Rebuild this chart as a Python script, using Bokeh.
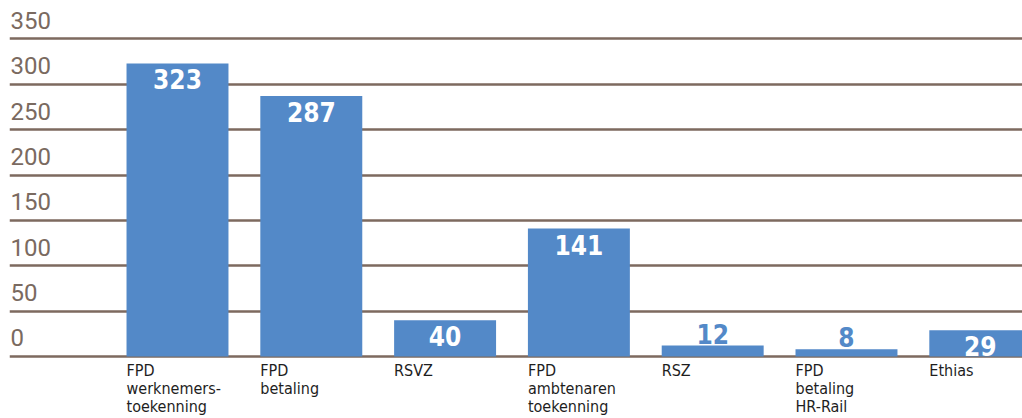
from bokeh.plotting import figure
from bokeh.models import ColumnDataSource, FixedTicker, Range1d
from bokeh.core.properties import value
from bokeh.embed import file_html
from bokeh.resources import INLINE

# ---- data ----
categories = ["FPD\nwerknemers-\ntoekenning", "FPD\nbetaling", "RSVZ",
              "FPD\nambtenaren\ntoekenning", "RSZ", "FPD\nbetaling\nHR-Rail", "Ethias"]
values = [323, 287, 40, 141, 12, 8, 29]
y_ticks = [0, 50, 100, 150, 200, 250, 300, 350]
y_tick_labels = ["0", "50", "100", "150", "200", "250", "300", "350"]

BAR = "#5389C8"
GRID = "#7d6a5f"
TICK = "#7a6a60"
NARROW = "'Liberation Sans Narrow', 'DejaVu Sans Condensed', 'Roboto', sans-serif"

Y0, Y1 = -68.35, 392.4
H = 418
PX = (Y1 - Y0) / H          # data units per screen pixel

xs = list(range(len(values)))
bar_w = 0.762
inside = [v >= 20 for v in values]

p = figure(width=1022, height=H, output_backend="svg", toolbar_location=None,
           x_range=Range1d(-1.2556, 6.3155), y_range=Range1d(Y0, Y1),
           min_border_left=9, min_border_right=0, min_border_top=0, min_border_bottom=0)
p.xaxis.visible = False
p.yaxis.visible = False
p.xgrid.visible = False
p.ygrid.ticker = FixedTicker(ticks=y_ticks)
p.ygrid.grid_line_color = GRID
p.ygrid.grid_line_width = 2.5
p.outline_line_color = None
p.background_fill_color = "white"
p.border_fill_color = "white"

src = ColumnDataSource(dict(x=xs, top=values))
p.vbar(x="x", top="top", bottom=0, width=bar_w, source=src,
       fill_color=BAR, line_color=None)

# value labels: white inside tall bars, blue above short ones
in_src = ColumnDataSource(dict(x=[x for x, i in zip(xs, inside) if i],
                               y=[v - 6 * PX for v, i in zip(values, inside) if i],
                               t=[str(v) for v, i in zip(values, inside) if i]))
out_src = ColumnDataSource(dict(x=[x for x, i in zip(xs, inside) if not i],
                                y=[v + 2 * PX for v, i in zip(values, inside) if not i],
                                t=[str(v) for v, i in zip(values, inside) if not i]))
p.text(x="x", y="y", text="t", source=in_src, text_color="white",
       text_font=value(NARROW), text_font_style="bold", text_font_size="26px",
       text_align="center", text_baseline="top")
p.text(x="x", y="y", text="t", source=out_src, text_color=BAR,
       text_font=value(NARROW), text_font_style="bold", text_font_size="26px",
       text_align="center", text_baseline="bottom")

# category labels below bars, left-aligned to bar edge
cat_src = ColumnDataSource(dict(x=[x - bar_w / 2 for x in xs],
                                y=[-5 * PX] * len(xs), t=categories))
p.text(x="x", y="y", text="t", source=cat_src, text_color="#1e1e1e",
       text_font=value(NARROW), text_font_size="16px", text_align="left",
       text_baseline="top", text_line_height=0.94)

# y tick labels above gridlines
tick_src = ColumnDataSource(dict(x=[-1.2556] * len(y_ticks),
                                 y=[t + 10 * PX for t in y_ticks], t=y_tick_labels))
p.text(x="x", y="y", text="t", source=tick_src, text_color=TICK,
       text_font=value("Roboto"), text_font_size="24px", text_align="left",
       text_baseline="bottom", x_offset=1)

open("out.html", "w").write(file_html(p, INLINE))
